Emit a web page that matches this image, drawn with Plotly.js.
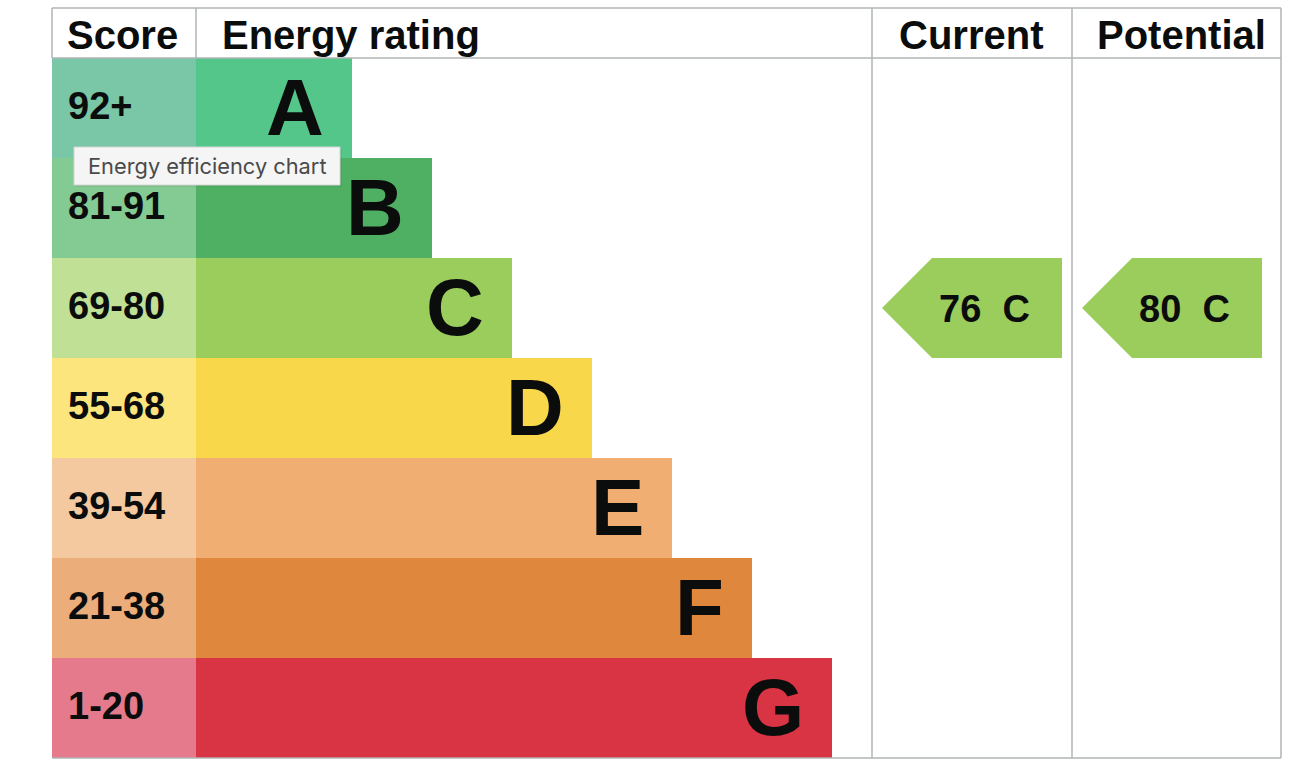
<!DOCTYPE html>
<html><head><meta charset="utf-8">
<script src="https://cdn.plot.ly/plotly-3.0.1.min.js"></script>
<style>html,body{margin:0;padding:0;background:#fff}#chart{width:1306px;height:774px}</style>
</head><body><div id="chart"></div>
<script>
// ---- data ----
const bands = ['A','B','C','D','E','F','G'];
const scoreRanges = ['92+','81-91','69-80','55-68','39-54','21-38','1-20'];
const bandMinScore = [92,81,69,55,39,21,1];
const ratingBarLength = [156,236,316,396,476,556,636];
const columnTitles = ['Score','Energy rating','Current','Potential'];
const currentScore = 76;
const potentialScore = 80;
const tooltipText = 'Energy efficiency chart';

// ---- styles / layout ----
const bandColors = ['#55c68a','#4fb064','#9bcd5c','#f8d74b','#f0ae72','#e0873e','#d93444'];
const scoreCellColors = ['#79c7a7','#83ca93','#bfe095','#fbe57c','#f5c9a0','#ebae7b','#e47a8b'];
const colEdges = [52,196,872,1072,1281];
const gridColor = '#b1b4b6';
const ink = '#0b0c0c';
const boldFont = 'Liberation Sans, Arial, Helvetica, sans-serif';

const idx = bands.map((b,i)=>i);
function bandOf(score){ for(let i=0;i<bandMinScore.length;i++){ if(score>=bandMinScore[i]) return i; } return bands.length-1; }

const traces = [];
traces.push({type:'bar', orientation:'h', y: idx, x: idx.map(()=>colEdges[1]-colEdges[0]), base: colEdges[0],
  width: 1, marker:{color: scoreCellColors, line:{width:0}}, hoverinfo:'skip', showlegend:false});
traces.push({type:'bar', orientation:'h', y: idx, x: ratingBarLength, base: colEdges[1],
  width: 1, marker:{color: bandColors, line:{width:0}}, hoverinfo:'skip', showlegend:false});

const annotations = [];
// arrows
[[currentScore,2],[potentialScore,3]].forEach(([score,col])=>{
  const i = bandOf(score);
  const l = colEdges[col] + 10, r = l + 180, p = l + 50;
  traces.push({type:'scatter', mode:'lines', x:[l,p,r,r,p,l], y:[i,i-0.5,i-0.5,i+0.5,i+0.5,i],
    fill:'toself', fillcolor: bandColors[i], line:{width:0,color:bandColors[i]}, hoverinfo:'skip', showlegend:false});
  annotations.push({x: r-30, y: i+0.01, xref:'x', yref:'y', xanchor:'right', yanchor:'middle', showarrow:false,
    text: score + '\u00a0\u00a0' + bands[i], font:{family: boldFont, size:38, color: ink, weight:'bold'}});
});

// score labels & band letters
idx.forEach(i=>{
  annotations.push({x: colEdges[0]+14, y: i-0.02, xref:'x', yref:'y', xanchor:'left', yanchor:'middle', showarrow:false,
    text: scoreRanges[i], font:{family: boldFont, size:38, color: ink, weight:'bold'}});
  annotations.push({x: colEdges[1]+ratingBarLength[i]-26, y: i-0.01, xref:'x', yref:'y', xanchor:'right', yanchor:'middle', showarrow:false,
    text: bands[i], font:{family: boldFont, size:80, color: ink, weight:'bold'}});
});

// column headers
const headerX = [colEdges[0]+13, colEdges[1]+24, colEdges[2]+25, colEdges[3]+23];
columnTitles.forEach((t,k)=>{
  annotations.push({x: headerX[k], y: -0.735, xref:'x', yref:'y', xanchor:'left', yanchor:'middle', showarrow:false,
    text: t, font:{family: boldFont, size:40, color: ink, weight:'bold'}});
});

// grid lines
const shapes = [];
const ln = (x0,y0,x1,y1)=>({type:'line', xref:'x', yref:'y', x0, y0, x1, y1, line:{color:gridColor, width:1.5}, layer:'above'});
shapes.push(ln(colEdges[0],-1,colEdges[4],-1));
shapes.push(ln(colEdges[0],-0.5,colEdges[4],-0.5));
shapes.push(ln(colEdges[0],6.5,colEdges[4],6.5));
shapes.push(ln(colEdges[0],-1,colEdges[0],-0.5));
shapes.push(ln(colEdges[1],-1,colEdges[1],-0.5));
[2,3,4].forEach(c=>shapes.push(ln(colEdges[c],-1,colEdges[c],6.5)));

// browser tooltip seen in the picture
shapes.push({type:'rect', xref:'x', yref:'y', x0:75, x1:342, y0:0.41, y1:0.79, fillcolor:'rgba(0,0,0,0.06)', line:{width:0}, layer:'above'});
shapes.push({type:'rect', xref:'x', yref:'y', x0:74, x1:340, y0:0.39, y1:0.77, fillcolor:'#f5f5f5', line:{color:'#d4d4d4', width:1}, layer:'above'});
annotations.push({x: 86, y: 0.58, xref:'x', yref:'y', xanchor:'left', yanchor:'middle', showarrow:false,
  text: tooltipText, font:{family:'Inter, Helvetica, Arial, sans-serif', size:21.8, color:'#4a4a4a'}});

const layout = {
  width:1306, height:774, margin:{l:0,r:0,t:0,b:0,pad:0},
  paper_bgcolor:'#fff', plot_bgcolor:'#fff', barmode:'overlay', bargap:0,
  xaxis:{range:[0,1306], visible:false, fixedrange:true},
  yaxis:{range:[6.66,-1.08], visible:false, fixedrange:true},
  shapes, annotations, showlegend:false
};
Plotly.newPlot('chart', traces, layout, {staticPlot:true, displayModeBar:false});
</script>
</body></html>
